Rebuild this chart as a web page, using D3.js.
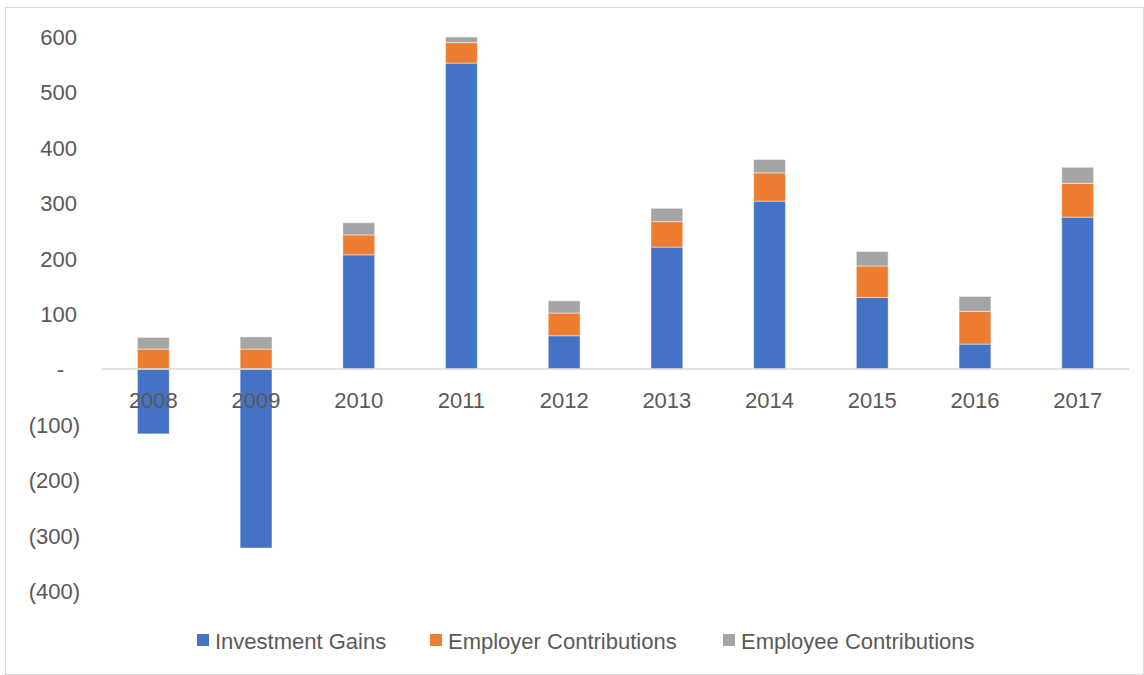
<!DOCTYPE html>
<html>
<head>
<meta charset="utf-8">
<script src="https://cdn.jsdelivr.net/npm/d3@7"></script>
<style>
  html, body { margin: 0; padding: 0; background: #fff; }
  svg { display: block; font-family: "Liberation Sans", Arial, sans-serif; }
</style>
</head>
<body>
<svg id="chart" width="1144" height="675"></svg>
<script>
// Annual sources of plan growth, by year
const years = ["2008", "2009", "2010", "2011", "2012", "2013", "2014", "2015", "2016", "2017"];
const investmentGains = [-117, -323, 206, 552, 60, 220, 303, 129, 45, 274];
const employerContributions = [36, 36, 36, 37, 41, 46, 51, 57, 59, 61];
const employeeContributions = [21, 22, 22, 10, 22, 24, 24, 26, 27, 29];
const yTicks = [-400, -300, -200, -100, 0, 100, 200, 300, 400, 500, 600];

const seriesNames = ["Investment Gains", "Employer Contributions", "Employee Contributions"];
const seriesValues = [investmentGains, employerContributions, employeeContributions];
const colors = ["#4472C4", "#ED7D31", "#A5A5A5"];

const svg = d3.select("#chart");
const W = 1144, H = 675;

// chart border
svg.append("rect")
  .attr("x", 5.5).attr("y", 7.5)
  .attr("width", W - 6).attr("height", H - 8)
  .attr("fill", "none").attr("stroke", "#d9d9d9").attr("stroke-width", 1);

const plot = { left: 102, right: 1129, top: 36.5, bottom: 590.7 };

const x = d3.scaleBand().domain(years).range([plot.left, plot.right]).paddingInner(0.69).paddingOuter(0.345);
const y = d3.scaleLinear().domain([-400, 600]).range([plot.bottom, plot.top]);

// stack positives upward and negatives downward from zero
const segments = [];
years.forEach((yr, i) => {
  let pos = 0, neg = 0;
  seriesValues.forEach((vals, s) => {
    const v = vals[i];
    let y0, y1;
    if (v >= 0) { y0 = pos; y1 = pos + v; pos = y1; }
    else { y0 = neg; y1 = neg + v; neg = y1; }
    segments.push({ year: yr, s, y0, y1 });
  });
});

svg.append("g").selectAll("rect")
  .data(segments)
  .join("rect")
  .attr("x", d => x(d.year))
  .attr("width", x.bandwidth())
  .attr("y", d => y(Math.max(d.y0, d.y1)))
  .attr("height", d => Math.abs(y(d.y0) - y(d.y1)))
  .attr("fill", d => colors[d.s])
  .attr("stroke", "#ffffff")
  .attr("stroke-opacity", 0.45)
  .attr("stroke-width", 1);

// zero line
svg.append("line")
  .attr("x1", plot.left).attr("x2", plot.right)
  .attr("y1", y(0)).attr("y2", y(0))
  .attr("stroke", "#d9d9d9").attr("stroke-width", 1.5);

// y axis labels in accounting style
const fmt = v => v === 0 ? "-" : (v < 0 ? "(" + Math.abs(v) + ")" : String(v));
const yAxis = d3.axisLeft(y).tickValues(yTicks).tickFormat(fmt).tickSize(0).tickPadding(0);
const yg = svg.append("g").attr("transform", "translate(80,0)").call(yAxis);
yg.select(".domain").remove();
yg.selectAll("text")
  .attr("font-size", 22)
  .attr("font-family", "\"Liberation Sans\", Arial, sans-serif")
  .attr("fill", "#595959")
  .attr("dy", "0.36em")
  .attr("x", d => d > 0 ? -3 : (d === 0 ? -16 : 0));

// x axis labels just below zero
const xAxis = d3.axisBottom(x).tickSize(0).tickPadding(0);
const xg = svg.append("g").attr("transform", `translate(0,${y(0)})`).call(xAxis);
xg.select(".domain").remove();
xg.selectAll("text")
  .attr("font-size", 22)
  .attr("font-family", "\"Liberation Sans\", Arial, sans-serif")
  .attr("fill", "#595959")
  .attr("dy", 0)
  .attr("y", 38.5);

// legend
const legendX = [197, 430, 723];
const lg = svg.append("g");
seriesNames.forEach((name, i) => {
  lg.append("rect")
    .attr("x", legendX[i]).attr("y", 634)
    .attr("width", 12).attr("height", 12)
    .attr("fill", colors[i]);
  lg.append("text")
    .attr("x", legendX[i] + 18).attr("y", 648.5)
    .attr("font-size", 22)
    .attr("fill", "#595959")
    .text(name);
});
</script>
</body>
</html>
